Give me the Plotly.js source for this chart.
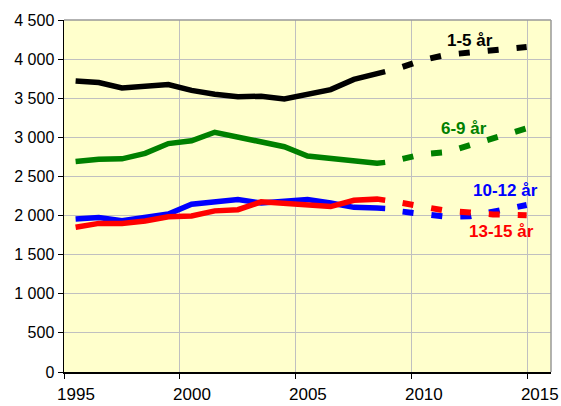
<!DOCTYPE html>
<html>
<head>
<meta charset="utf-8">
<script src="https://cdn.plot.ly/plotly-3.0.1.min.js"></script>
<style>html,body{margin:0;padding:0;background:#fff;}#chart{width:561px;height:406px;}</style>
</head>
<body>
<div id="chart"></div>
<script>
// Observed period (solid lines)
const obsYears = [1995, 1996, 1997, 1998, 1999, 2000, 2001, 2002, 2003, 2004, 2005, 2006, 2007, 2008, 2008.35];
const age1_5  = [3720, 3700, 3630, 3645, 3675, 3600, 3550, 3520, 3525, 3490, 3545, 3610, 3740, 3815, 3840];
const age6_9  = [2690, 2720, 2725, 2795, 2920, 2955, 3065, 3005, 2940, 2880, 2760, 2730, 2715, 2668, 2680];
const age10_12 = [1955, 1975, 1935, 1975, 2020, 2145, 2175, 2205, 2160, 2180, 2205, 2160, 2105, 2095, 2090];
const age13_15 = [1850, 1900, 1900, 1930, 1985, 1995, 2060, 2075, 2175, 2160, 2145, 2115, 2195, 2210, 2195];

// Forecast period (dashed lines)
const fcYears = [2009.1, 2010, 2011, 2012, 2013, 2014.45];
const fc1_5   = [3900, 3990, 4055, 4080, 4100, 4155];
const fc6_9   = [2725, 2785, 2810, 2895, 2975, 3115];
const fc10_12 = [2050, 2015, 1985, 1990, 2055, 2135];
const fc13_15 = [2160, 2105, 2060, 2040, 2015, 2005];

const seriesNames = ['1-5 år', '6-9 år', '10-12 år', '13-15 år'];
const seriesColors = ['#000000', '#008000', '#0000FF', '#FF0000'];

const tickPos = [1994.5, 1999.5, 2004.5, 2009.5, 2014.5];
const tickLabels = ['1995', '2000', '2005', '2010', '2015'];

const obs = [age1_5, age6_9, age10_12, age13_15];
const fc = [fc1_5, fc6_9, fc10_12, fc13_15];

const traces = [];
obs.forEach((v, i) => {
  traces.push({x: obsYears, y: v, type: 'scatter', mode: 'lines', name: seriesNames[i],
    line: {color: seriesColors[i], width: 5.5}, showlegend: false, hoverinfo: 'skip'});
});
fc.forEach((v, i) => {
  traces.push({x: fcYears, y: v, type: 'scatter', mode: 'lines', name: seriesNames[i] + ' prognos',
    line: {color: seriesColors[i], width: 6, dash: '11px,18px'}, showlegend: false, hoverinfo: 'skip'});
});

// label positions (data coords)
const labelX = [2012.0, 2011.74, 2013.55, 2013.38];
const labelY = [4244, 3119, 2320, 1790];

const annotations = seriesNames.map((t, i) => ({
  x: labelX[i], y: labelY[i], xref: 'x', yref: 'y', text: '<b>' + t + '</b>', showarrow: false,
  font: {family: 'Arial, "Liberation Sans", sans-serif', size: 17, color: seriesColors[i]},
  xanchor: 'center', yanchor: 'middle'
}));

const layout = {
  width: 561, height: 406,
  margin: {l: 64, r: 10, t: 20, b: 34},
  paper_bgcolor: '#ffffff',
  plot_bgcolor: '#FFFFCC',
  separators: ', ',
  font: {family: 'Arial, "Liberation Sans", sans-serif', color: '#000'},
  showlegend: false,
  xaxis: {
    range: [1994.5, 2015.5], tickmode: 'array', tickvals: tickPos, ticktext: tickLabels,
    ticks: 'outside', ticklen: 5, tickcolor: '#000', tickwidth: 1,
    ticklabelshift: 12, ticklabelstandoff: 1,
    showgrid: true, gridcolor: '#C0C0C0', gridwidth: 1,
    showline: true, linecolor: '#000', linewidth: 1.5, zeroline: false,
    tickfont: {size: 17, color: '#000'}
  },
  yaxis: {
    range: [0, 4500], dtick: 500, tick0: 0, separatethousands: true,
    ticks: 'outside', ticklen: 5, tickcolor: '#000', tickwidth: 1,
    showgrid: true, gridcolor: '#C0C0C0', gridwidth: 1,
    showline: true, linecolor: '#000', linewidth: 1.5, zeroline: false,
    tickfont: {size: 16, color: '#000'}
  },
  shapes: [
    {type: 'line', xref: 'paper', yref: 'paper', x0: 0, x1: 1, y0: 1, y1: 1, line: {color: '#999999', width: 1.5}},
    {type: 'line', xref: 'paper', yref: 'paper', x0: 1, x1: 1, y0: 0, y1: 1, line: {color: '#999999', width: 1.5}}
  ],
  annotations: annotations
};

Plotly.newPlot('chart', traces, layout, {displayModeBar: false, staticPlot: true});
</script>
</body>
</html>
